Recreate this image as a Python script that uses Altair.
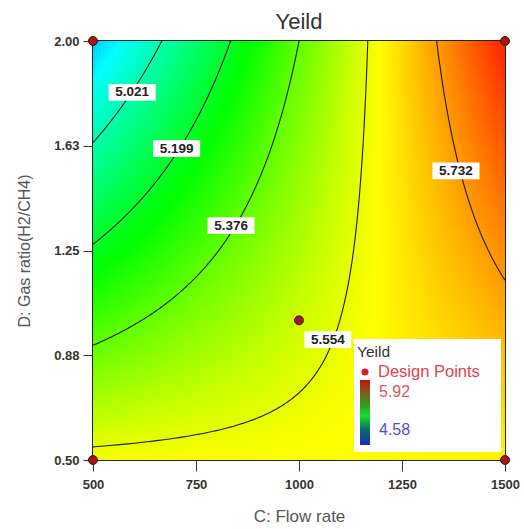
import numpy as np
import pandas as pd
import altair as alt

alt.data_transformers.disable_max_rows()

# ---- data ----
# fitted 2FI response-surface model in coded units (C, D scaled to [-1, 1])
model_terms = ["Intercept", "C", "D", "CD"]
model_coefs = [5.482, 0.272, -0.106, 0.261]
c_range = [500, 1500]
d_range = [0.5, 2.0]

contour_levels = [5.021, 5.199, 5.376, 5.554, 5.732]
label_text = ["5.021", "5.199", "5.376", "5.554", "5.732"]
label_c = [595, 703, 835, 1070, 1381]
label_d = [1.816, 1.615, 1.339, 0.931, 1.535]

design_c = [500, 500, 1500, 1500, 1000]
design_d = [0.5, 2.0, 0.5, 2.0, 1.0]

x_ticks = [500, 750, 1000, 1250, 1500]
y_ticks = [0.5, 0.875, 1.25, 1.625, 2.0]
legend_min, legend_max = 4.58, 5.92

# ---- helpers ----
a, b, e, f = model_coefs


def coded(C, D):
    c = (C - (c_range[0] + c_range[1]) / 2) / ((c_range[1] - c_range[0]) / 2)
    d = (D - (d_range[0] + d_range[1]) / 2) / ((d_range[1] - d_range[0]) / 2)
    return c, d


def uncoded(c, d):
    C = (c_range[0] + c_range[1]) / 2 + c * (c_range[1] - c_range[0]) / 2
    D = (d_range[0] + d_range[1]) / 2 + d * (d_range[1] - d_range[0]) / 2
    return C, D


def predict(C, D):
    c, d = coded(C, D)
    return a + b * c + e * d + f * c * d


# heat-map cells
nx, ny = 103, 105
xs = np.linspace(c_range[0], c_range[1], nx + 1)
ys = np.linspace(d_range[0], d_range[1], ny + 1)
dx = xs[1] - xs[0]
dy = ys[1] - ys[0]
rows = []
for i in range(nx):
    for j in range(ny):
        xc = (xs[i] + xs[i + 1]) / 2
        yc = (ys[j] + ys[j + 1]) / 2
        rows.append((xs[i], min(xs[i + 1] + 0.4 * dx, c_range[1]),
                     ys[j], min(ys[j + 1] + 0.4 * dy, d_range[1]),
                     predict(xc, yc)))
grid = pd.DataFrame(rows, columns=["C", "C2", "D", "D2", "v"])

# contour lines of the model
lines = []
for L in contour_levels:
    pts = []
    for d in np.linspace(-1, 1, 600):
        c = (L - a - e * d) / (b + f * d)
        pts.append((c, d))
    for cb in (-1.0, 1.0):
        denom = e + f * cb
        if abs(denom) > 1e-12:
            pts.append((cb, (L - a - b * cb) / denom))
    pts = [(c, d) for c, d in pts if -1 - 1e-9 <= c <= 1 + 1e-9 and -1 <= d <= 1]
    pts.sort(key=lambda p: p[1])
    for k, (c, d) in enumerate(pts):
        C, D = uncoded(c, d)
        lines.append((str(L), k, C, D))
cont = pd.DataFrame(lines, columns=["level", "i", "C", "D"])

labels = pd.DataFrame({"C": label_c, "D": label_d, "t": label_text})
design = pd.DataFrame({"C": design_c, "D": design_d})

xscale = alt.Scale(domain=c_range, nice=False, zero=False)
yscale = alt.Scale(domain=d_range, nice=False, zero=False)

heat_colors = ["#0000FF", "#00FFFF", "#00FF00", "#FFFF00", "#FF1A00"]
heat_domain = [float(v) for v in np.linspace(legend_min, legend_max, 5)]

FONT = "Liberation Sans"

xaxis = alt.Axis(values=x_ticks, format="d", title="C: Flow rate", grid=False,
                 domain=False, tickSize=11, labelPadding=7, titlePadding=17,
                 titleFontSize=17, labelFlush=False, labelOverlap=False)
yaxis = alt.Axis(values=y_ticks, format=".2f", title="D: Gas ratio(H2/CH4)", grid=False,
                 domain=False, tickSize=10, labelPadding=4, titlePadding=21,
                 titleFontSize=16, labelFlush=False, labelOverlap=False)


def X(field="C"):
    return alt.X(f"{field}:Q", scale=xscale, axis=xaxis, title="C: Flow rate")


def Y(field="D"):
    return alt.Y(f"{field}:Q", scale=yscale, axis=yaxis, title="D: Gas ratio(H2/CH4)")


heat = alt.Chart(grid).mark_rect(strokeWidth=0).encode(
    x=X(), x2="C2:Q", y=Y(), y2="D2:Q",
    color=alt.Color("v:Q", scale=alt.Scale(domain=heat_domain, range=heat_colors,
                                           interpolate="rgb"), legend=None),
)

contours = alt.Chart(cont).mark_line(color="#1a1a1a", strokeWidth=1.1, clip=True).encode(
    x=X(), y=Y(), detail="level:N", order="i:Q",
)

box_path = "M-1,-0.36L1,-0.36L1,0.36L-1,0.36Z"
label_boxes = alt.Chart(labels).mark_point(
    shape=box_path, size=2209, filled=True, fill="white", opacity=1, strokeWidth=0
).encode(x=X(), y=Y())
label_txt = alt.Chart(labels).mark_text(
    font=FONT, fontSize=13.5, fontWeight="bold", color="#222"
).encode(x=X(), y=Y(), text="t:N")

points = alt.Chart(design).mark_point(
    shape="circle", size=80, filled=True, fill="#A01818", stroke="#4a0808",
    strokeWidth=1, opacity=1, clip=False
).encode(x=X(), y=Y())

# ---- hand-built legend box ----
one = pd.DataFrame({"k": [0]})
leg_box = alt.Chart(one).mark_rect(fill="white").encode(
    x=alt.value(261), x2=alt.value(408), y=alt.value(298), y2=alt.value(411)
)
leg_title = alt.Chart(pd.DataFrame({"t": ["Yeild"]})).mark_text(
    font=FONT, fontSize=15.5, color="#333", align="left", baseline="middle"
).encode(x=alt.value(264), y=alt.value(311), text="t:N")
leg_dot = alt.Chart(one).mark_point(
    shape="circle", size=50, filled=True, fill="#E01830", opacity=1, strokeWidth=0
).encode(x=alt.value(272), y=alt.value(331))
leg_dp = alt.Chart(pd.DataFrame({"t": ["Design Points"]})).mark_text(
    font=FONT, fontSize=16.5, color="#E04050", align="left", baseline="middle"
).encode(x=alt.value(285), y=alt.value(331), text="t:N")
grad = alt.Gradient(
    gradient="linear",
    stops=[
        alt.GradientStop(color="#1828B8", offset=0),
        alt.GradientStop(color="#0A7060", offset=0.25),
        alt.GradientStop(color="#18E028", offset=0.45),
        alt.GradientStop(color="#30A020", offset=0.6),
        alt.GradientStop(color="#806018", offset=0.8),
        alt.GradientStop(color="#C01010", offset=1),
    ],
    x1=0, x2=0, y1=1, y2=0,
)
leg_bar = alt.Chart(one).mark_rect(color=grad).encode(
    x=alt.value(267), x2=alt.value(277), y=alt.value(339), y2=alt.value(404)
)
leg_max = alt.Chart(pd.DataFrame({"t": [f"{legend_max:.2f}"]})).mark_text(
    font=FONT, fontSize=16, color="#E05060", align="left", baseline="middle"
).encode(x=alt.value(286), y=alt.value(351), text="t:N")
leg_min = alt.Chart(pd.DataFrame({"t": [f"{legend_min:.2f}"]})).mark_text(
    font=FONT, fontSize=16, color="#5050C8", align="left", baseline="middle"
).encode(x=alt.value(286), y=alt.value(389), text="t:N")

chart = alt.layer(
    heat, contours, label_boxes, label_txt,
    leg_box, leg_title, leg_dot, leg_dp, leg_bar, leg_max, leg_min,
    points,
).properties(
    width=412, height=419,
    background="white",
    title=alt.TitleParams("Yeild", font=FONT, fontSize=22, fontWeight="normal",
                          color="#333", anchor="middle", offset=1),
    autosize=alt.AutoSizeParams(type="none"),
    padding={"left": 93, "top": 41, "right": 19, "bottom": 69},
).configure_view(
    stroke="#222", strokeWidth=2
).configure_axis(
    labelFont=FONT, labelFontSize=13, labelFontWeight="bold", labelColor="#333",
    tickColor="#333", titleFont=FONT, titleFontWeight="normal", titleColor="#555",
)

chart.save("out.html", embed_options={"renderer": "svg", "actions": False})
